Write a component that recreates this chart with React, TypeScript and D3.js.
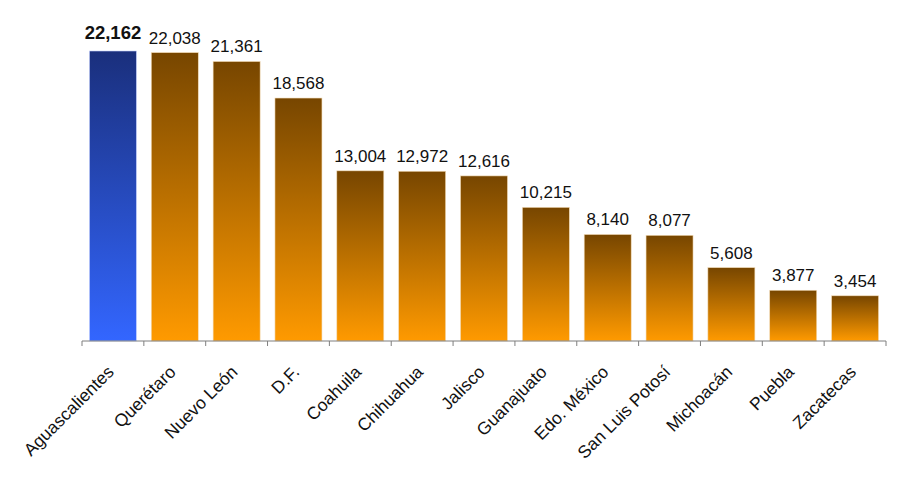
import React from "react";
import * as d3 from "d3";

const categories = [
  "Aguascalientes", "Querétaro", "Nuevo León", "D.F.", "Coahuila", "Chihuahua",
  "Jalisco", "Guanajuato", "Edo. México", "San Luis Potosí", "Michoacán", "Puebla", "Zacatecas",
];
const values = [22162, 22038, 21361, 18568, 13004, 12972, 12616, 10215, 8140, 8077, 5608, 3877, 3454];
const highlighted = ["Aguascalientes"];

const W = 900, H = 480;
const axisY = 341;
const x0 = 82, x1 = 886;

export default function App() {
  const x = d3.scaleBand<string>().domain(categories).range([x0, x1]).paddingInner(0.24).paddingOuter(0.12);
  const y = d3.scaleLinear().domain([0, 22162]).range([axisY, 51]);
  const fmt = d3.format(",");
  const step = x.step();
  const tickXs = d3.range(categories.length + 1).map((i) => x0 + i * step);
  return (
    <svg width={W} height={H} style={{ position: "absolute", left: 0, top: 0, background: "#fff" }}
      fontFamily="'Liberation Sans', Arial, sans-serif">
      <defs>
        <linearGradient id="gOrange" x1="0" y1="0" x2="0" y2="1">
          <stop offset="0" stopColor="#774600" />
          <stop offset="1" stopColor="#ff9a00" />
        </linearGradient>
        <linearGradient id="gBlue" x1="0" y1="0" x2="0" y2="1">
          <stop offset="0" stopColor="#1a2f7c" />
          <stop offset="1" stopColor="#3366ff" />
        </linearGradient>
      </defs>
      {categories.map((c, i) => {
        const v = values[i];
        const hl = highlighted.includes(c);
        const bx = x(c)!;
        const bw = x.bandwidth();
        return (
          <g key={c}>
            <rect x={bx} y={y(v)} width={bw} height={axisY - y(v)}
              fill={hl ? "url(#gBlue)" : "url(#gOrange)"} stroke={hl ? "#c8d4ff" : "#f3dcb8"} strokeWidth={0.6} />
            <text x={bx + bw / 2} y={y(v) - (hl ? 12 : 9)} textAnchor="middle" fontSize={hl ? 18.5 : 17}
              fontWeight={hl ? "bold" : "normal"} fill="#111">{fmt(v)}</text>
            <text transform={`translate(${bx + bw / 2 + 2},${373}) rotate(-45)`} textAnchor="end"
              fontSize={17.5} fill="#111">{c}</text>
          </g>
        );
      })}
      <line x1={x0} x2={x1} y1={axisY} y2={axisY} stroke="#7f7f7f" strokeWidth={1} />
      {tickXs.map((t, i) => (
        <line key={i} x1={t} x2={t} y1={axisY} y2={axisY + 5} stroke="#7f7f7f" strokeWidth={1} />
      ))}
    </svg>
  );
}
